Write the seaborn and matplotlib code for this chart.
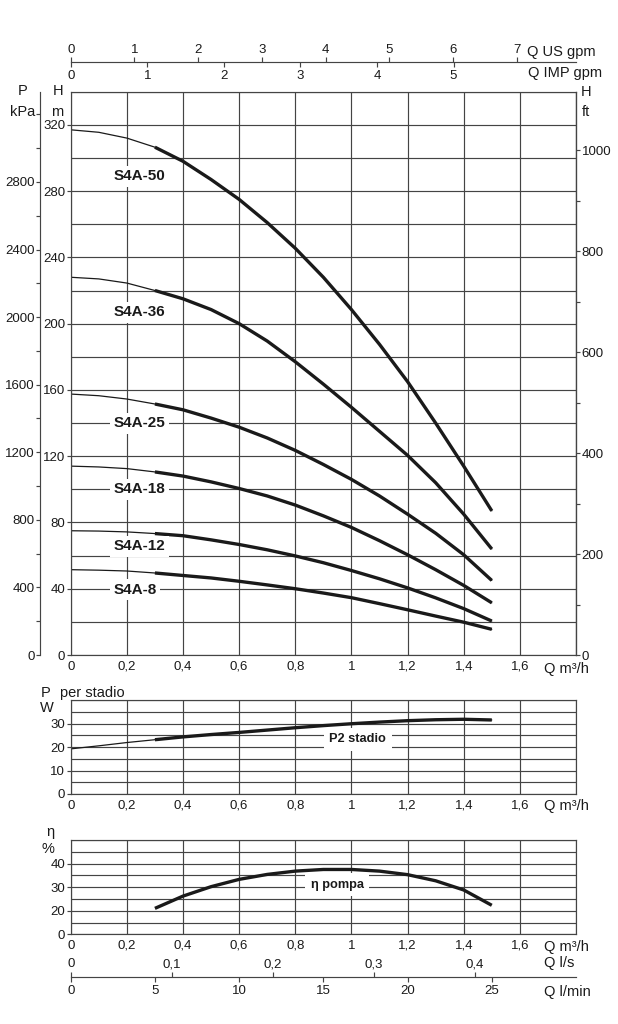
import numpy as np
import pandas as pd
import matplotlib
matplotlib.use("Agg")
import matplotlib.pyplot as plt
from matplotlib.ticker import FixedLocator
import seaborn as sns

# flow rates (m3/h) where the head curves were read
q = [0, 0.1, 0.2, 0.3, 0.4, 0.5, 0.6, 0.7, 0.8, 0.9, 1.0, 1.1, 1.2, 1.3, 1.4, 1.5]

# head H (m) per model
h_s4a50 = [317, 315.5, 312, 306.5, 298, 287, 275, 261, 245.5, 228, 208.5, 187.5, 165, 140, 114, 87]
h_s4a36 = [228, 227, 224.5, 220, 215, 208.5, 200, 189.5, 177, 163.5, 149.5, 135, 120.5, 104, 85, 64]
h_s4a25 = [157.5, 156.5, 154.5, 151.5, 148, 143, 137.5, 131, 123.5, 115, 106, 96, 85, 73.5, 60.5, 45]
h_s4a18 = [114, 113.5, 112.5, 110.5, 108, 104.5, 100.5, 96, 90.5, 84, 77, 69, 60.5, 51.5, 42, 31.5]
h_s4a12 = [75, 74.8, 74.3, 73.3, 72, 69.5, 66.7, 63.5, 59.8, 55.7, 51, 46, 40.5, 34.5, 28, 20.5]
h_s4a8 = [51.5, 51.2, 50.7, 49.5, 48, 46.5, 44.5, 42.3, 40, 37.4, 34.6, 31, 27.3, 23.5, 19.8, 15.5]
models = ["S4A-50", "S4A-36", "S4A-25", "S4A-18", "S4A-12", "S4A-8"]
label_h = [289, 207, 140, 100, 65.5, 39.5]

# power per stage (W)
p2_stadio = [19.2, 20.5, 21.9, 23.1, 24.3, 25.3, 26.2, 27.2, 28.2, 29.1, 29.9, 30.6, 31.2, 31.6, 31.8, 31.5]

# pump efficiency (%), axis is labelled 0 / 20 / 30 / 40
q_eta = [0.3, 0.4, 0.5, 0.6, 0.7, 0.8, 0.9, 1.0, 1.1, 1.2, 1.3, 1.4, 1.5]
eta_pompa = [21, 26.2, 30.2, 33.3, 35.4, 36.8, 37.5, 37.5, 36.8, 35.3, 32.7, 28.8, 22.3]

q_ticks = [0, 0.2, 0.4, 0.6, 0.8, 1.0, 1.2, 1.4, 1.6, 1.8]
q_labels = ["0", "0,2", "0,4", "0,6", "0,8", "1", "1,2", "1,4", "1,6", ""]
us_gpm = [0, 1, 2, 3, 4, 5, 6, 7]
imp_gpm = [0, 1, 2, 3, 4, 5]
l_s = [0, 0.1, 0.2, 0.3, 0.4]
l_s_labels = ["0", "0,1", "0,2", "0,3", "0,4"]
l_min = [0, 5, 10, 15, 20, 25]

TO_USGPM = 4.40287
TO_IMPGPM = 3.66615
KPA_PER_M = 9.80665
M_PER_FT = 0.3048

INK = "#1a1a1a"
GRID = "#444444"

sns.set_theme(style="white")
plt.rcParams["font.family"] = ["Liberation Sans", "DejaVu Sans"]
plt.rcParams["text.color"] = INK

W_PX, H_PX = 618, 1024
fig = plt.figure(figsize=(6.18, 10.24), dpi=100)
fig.patch.set_facecolor("white")


def box(x0, y0, x1, y1):
    return [x0 / W_PX, 1 - y1 / H_PX, (x1 - x0) / W_PX, (y1 - y0) / H_PX]


def ftext(x, y, s, **kw):
    kw.setdefault("fontsize", 10.5)
    kw.setdefault("va", "center")
    fig.text(x / W_PX, 1 - y / H_PX, s, **kw)


def style_grid(a, ylim, major, labels, minor):
    a.set_xlabel("")
    a.set_ylabel("")
    a.set_xlim(0, 1.8)
    a.set_ylim(*ylim)
    a.set_xticks(q_ticks, q_labels)
    a.set_yticks(major, labels)
    a.yaxis.set_minor_locator(FixedLocator(minor))
    a.set_axisbelow(True)
    a.grid(True, which="both", color=GRID, lw=0.85)
    a.tick_params(axis="x", length=0, pad=4, labelsize=9.5, labelcolor=INK)
    a.tick_params(axis="y", which="major", left=True, length=3, width=0.85,
                  direction="out", pad=1, labelsize=9.5, color=GRID, labelcolor=INK)
    a.tick_params(axis="y", which="minor", length=0)
    for s in a.spines.values():
        s.set_visible(True)
        s.set_color(GRID)
        s.set_linewidth(0.85)


def flow_axis(y_px, top_pos, top_labels, bot_pos, bot_labels):
    a = fig.add_axes(box(70.7, y_px, 576, y_px + 0.1))
    b = a.twiny()
    for ax_ in (a, b):
        ax_.set_xlim(0, 1.8)
        ax_.patch.set_alpha(0)
        for s in ax_.spines.values():
            s.set_visible(False)
    a.set_yticks([])
    a.spines["bottom"].set_visible(True)
    a.spines["bottom"].set_color(GRID)
    a.spines["bottom"].set_linewidth(0.85)
    a.set_xticks(top_pos, top_labels)
    a.xaxis.set_ticks_position("top")
    a.tick_params(axis="x", top=True, bottom=False, labeltop=True, labelbottom=False,
                  direction="out", length=3.6, width=0.85, pad=1, labelsize=9.5,
                  color=GRID, labelcolor=INK)
    b.set_xticks(bot_pos, bot_labels)
    b.xaxis.set_ticks_position("bottom")
    b.tick_params(axis="x", top=False, bottom=True, labeltop=False, labelbottom=True,
                  direction="out", length=3.6, width=0.85, pad=2, labelsize=9.5,
                  color=GRID, labelcolor=INK)
    return a, b


# ---------------- head curves ----------------
ax = fig.add_axes(box(70.7, 91.7, 576, 655))
heads = [h_s4a50, h_s4a36, h_s4a25, h_s4a18, h_s4a12, h_s4a8]
df = pd.DataFrame({
    "Q": q * len(models),
    "H": np.concatenate(heads),
    "model": np.repeat(models, len(q)),
})
pal = {m: INK for m in models}
sns.lineplot(data=df, x="Q", y="H", hue="model", palette=pal, lw=0.9,
             estimator=None, sort=False, legend=False, ax=ax)
sns.lineplot(data=df[df["Q"] >= 0.3], x="Q", y="H", hue="model", palette=pal, lw=2.4,
             estimator=None, sort=False, legend=False, ax=ax, solid_capstyle="butt",
             solid_joinstyle="round")
h_major = list(range(0, 321, 40))
style_grid(ax, (0, 340), h_major, [str(v) for v in h_major], list(range(20, 341, 20)))

for m, hl in zip(models, label_h):
    ax.text(0.152, hl, m, ha="left", va="center", fontsize=11, fontweight="bold",
            color=INK, bbox=dict(fc="white", ec="none", pad=2.5))

kpa = ax.secondary_yaxis(-0.0608, functions=(lambda h: np.asarray(h) * KPA_PER_M,
                                             lambda p: np.asarray(p) / KPA_PER_M))
kpa_major = list(range(0, 2801, 400))
kpa.set_yticks(kpa_major, [str(v) for v in kpa_major])
kpa.yaxis.set_minor_locator(FixedLocator(list(range(200, 3201, 400)) + [3200]))
kpa.tick_params(axis="y", which="both", length=3, width=0.85, direction="out", pad=1,
                labelsize=9.5, color=GRID, labelcolor=INK)
for s in kpa.spines.values():
    s.set_color(GRID)
    s.set_linewidth(0.85)

ft = ax.secondary_yaxis("right", functions=(lambda h: np.asarray(h) / M_PER_FT,
                                            lambda f: np.asarray(f) * M_PER_FT))
ft_major = list(range(0, 1001, 200))
ft.set_yticks(ft_major, [str(v) for v in ft_major])
ft.yaxis.set_minor_locator(FixedLocator(list(range(100, 1000, 200))))
ft.tick_params(axis="y", which="both", length=3, width=0.85, direction="out", pad=1,
               labelsize=9.5, color=GRID, labelcolor=INK)
for s in ft.spines.values():
    s.set_color(GRID)
    s.set_linewidth(0.85)

# ---------------- power per stage ----------------
ax_p = fig.add_axes(box(70.7, 700, 576, 794))
dp = pd.DataFrame({"Q": q, "P": p2_stadio})
sns.lineplot(data=dp, x="Q", y="P", color=INK, lw=0.9, ax=ax_p)
sns.lineplot(data=dp[dp["Q"] >= 0.3], x="Q", y="P", color=INK, lw=2.4, ax=ax_p,
             solid_capstyle="butt", solid_joinstyle="round")
style_grid(ax_p, (0, 40), [0, 10, 20, 30], ["0", "10", "20", "30"], list(range(5, 41, 5)))
ax_p.text(1.023, 23.4, "P2 stadio", ha="center", va="center", fontsize=9.2,
          fontweight="bold", color=INK, bbox=dict(fc="white", ec="none", pad=4))

# ---------------- efficiency ----------------
ax_e = fig.add_axes(box(70.7, 840, 576, 934.3))
de = pd.DataFrame({"Q": q_eta, "eta": eta_pompa})
sns.lineplot(data=de, x="Q", y="eta", color=INK, lw=2.4, ax=ax_e, solid_capstyle="butt",
             solid_joinstyle="round")
style_grid(ax_e, (10, 50), [10, 20, 30, 40], ["0", "20", "30", "40"], list(range(15, 51, 5)))
ax_e.text(0.95, 31, "η pompa", ha="center", va="center", fontsize=9.2,
          fontweight="bold", color=INK, bbox=dict(fc="white", ec="none", pad=4))

# ---------------- extra flow scales ----------------
flow_axis(62.3, [v / TO_USGPM for v in us_gpm], [str(v) for v in us_gpm],
          [v / TO_IMPGPM for v in imp_gpm], [str(v) for v in imp_gpm])
flow_axis(976.7, [v * 3.6 for v in l_s], l_s_labels,
          [v * 0.06 for v in l_min], [str(v) for v in l_min])

# ---------------- axis names ----------------
ftext(527, 51.7, "Q US gpm", ha="left")
ftext(528, 73.3, "Q IMP gpm", ha="left")
ftext(23, 91, "P", ha="center")
ftext(23, 112, "kPa", ha="center")
ftext(58, 91, "H", ha="center")
ftext(57, 112, "m", ha="center")
ftext(586, 92, "H", ha="center")
ftext(586, 112, "ft", ha="center")
ftext(544, 669, "Q m³/h", ha="left")
for y in (806, 947):
    ftext(544, y, "Q m³/h", ha="left")
ftext(46, 692.7, "P", ha="center")
ftext(60, 692.7, "per stadio", ha="left")
ftext(47, 708.3, "W", ha="center")
ftext(50, 831.7, "η", ha="center")
ftext(48, 849, "%", ha="center")
ftext(544, 963, "Q l/s", ha="left")
ftext(544, 991.7, "Q l/min", ha="left")

fig.savefig("out.png", dpi=100, facecolor="white")
